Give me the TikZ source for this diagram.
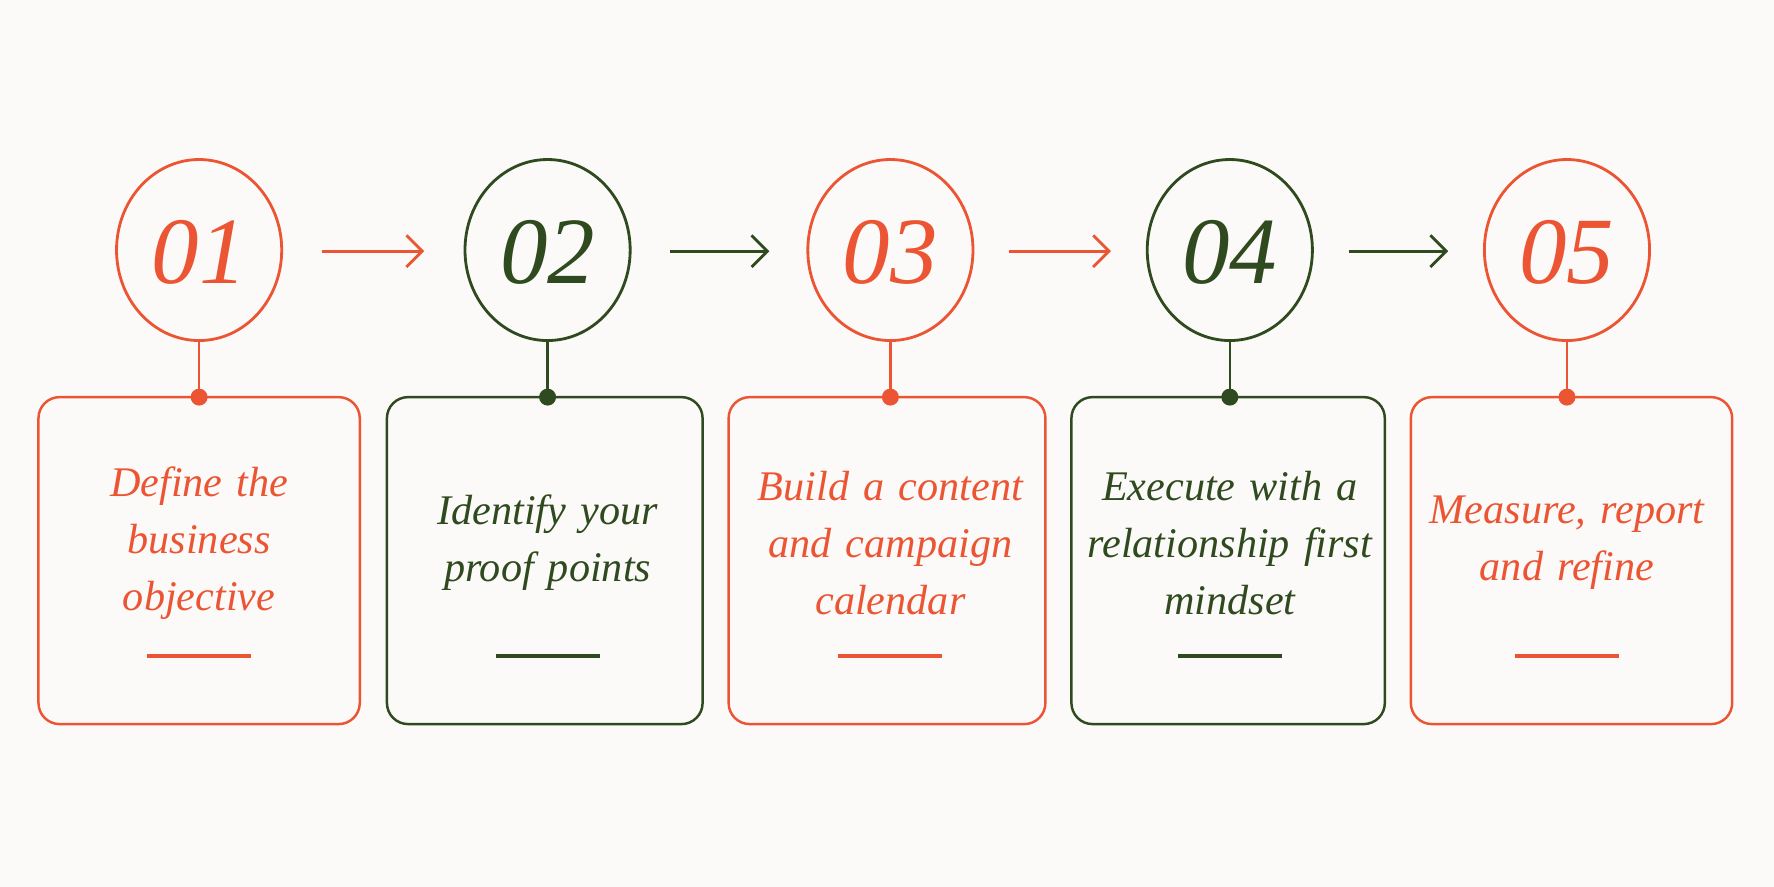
\documentclass[tikz,border=0pt]{standalone}
\usepackage{fontspec}
\setmainfont{Liberation Serif}
\usetikzlibrary{arrows.meta,shapes.geometric}
\begin{document}
\definecolor{rd}{HTML}{EC5533}
\definecolor{gn}{HTML}{2F4A1E}
\definecolor{bg}{HTML}{FBFAF8}
\begin{tikzpicture}[x=0.01131cm,y=-0.01131cm,
 box/.style={draw=#1,line width=0.7pt,rounded corners=6pt},
 txt/.style={text=#1,font=\itshape\fontsize{12pt}{16.2pt}\selectfont,align=center,text width=2.9cm},
 num/.style={text=#1,font=\itshape\fontsize{27pt}{27pt}\selectfont},
 arr/.style={draw=#1,line width=0.8pt,-{Straight Barb[length=4.5pt,width=9pt]}}]
\fill[bg] (0,0) rectangle (1568,784);
\useasboundingbox (0,0) rectangle (1568,784);
\foreach \i/\cx/\xa/\xb/\c/\t in {1/176/34/318/rd/{Define the\\business\\objective},
 2/484/342/621/gn/{Identify your\\proof points},
 3/787/644/924/rd/{Build a content\\and campaign\\calendar},
 4/1087/947/1224/gn/{Execute with a\\relationship first\\mindset},
 5/1385/1247/1531/rd/{Measure, report\\and refine}}{
 \draw[\c,line width=0.8pt] (\cx,221) ellipse (73 and 80);
 \node[num=\c] (n\i) at (\cx,223) {0\i};
 \draw[box=\c] (\xa,351) rectangle (\xb,640);
 \coordinate (s\i) at (\cx,301);
 \coordinate (d\i) at (\cx,351);
 \draw[\c,line width=0.7pt] (s\i) -- (d\i);
 \fill[\c] (d\i) circle (7.5);
 \node[txt=\c] (t\i) at (\cx,480) {\t};
 \draw[\c,line width=1pt] (\cx-46,580) -- (\cx+46,580);
}
\draw[arr=rd] (285,222) -- (375,222);
\draw[arr=gn] (592,222) -- (680,222);
\draw[arr=rd] (892,222) -- (982,222);
\draw[arr=gn] (1192,222) -- (1280,222);
\end{tikzpicture}
\end{document}
